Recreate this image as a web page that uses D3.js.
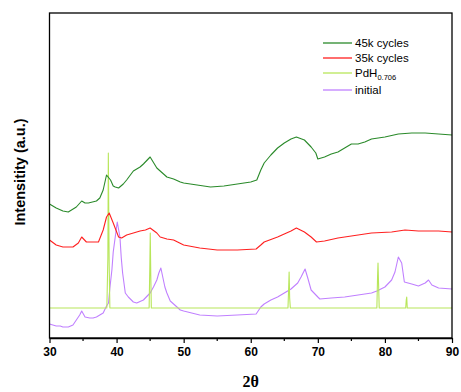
<!DOCTYPE html>
<html>
<head>
<meta charset="utf-8">
<script src="https://cdn.jsdelivr.net/npm/d3@7"></script>
<style>
body{margin:0;background:#fff;}
svg{display:block;}
</style>
</head>
<body>
<svg id="chart" width="461" height="392"></svg>
<script>
// ---- Data (intensity in arbitrary units) ----
const xTicks = [30, 40, 50, 60, 70, 80, 90];
const seriesNames = ["45k cycles", "35k cycles", "PdH", "initial"];
const seriesColors = ["#2a8a2a", "#ff2020", "#b8e65a", "#c080ff"];

const cycles45k = [
 [30,134],[31,130],[32,127],[32.8,126],[34,131],[34.8,137],[35.3,135],[35.8,135],[37,137],[37.5,140],
 [38,148],[38.5,163],[39.1,158],[39.5,152],[39.8,151],[40.3,150],[41,154],[41.5,158],[42.5,167],
 [43.5,171],[44,174],[45,181],[46,170],[47,164],[47.5,161],[48.5,159],[49.5,156],[50,155],[52,153],
 [54,151],[56,152],[58,154],[60,156],[60.9,158],[61.5,168],[62,175],[63,183],[64,190],[65,195],
 [66,199],[66.8,201],[68,198],[69,191],[69.7,185],[70,179],[71,181],[72,184],[73,186],[74,190],
 [75,194],[76,194],[77,196],[78,199],[80,201],[82,204],[84,205],[86,205],[88,204],[90,203]
];
const cycles35k = [
 [30,98],[31,93],[32,91],[33,91],[33.5,91],[34.3,95],[34.8,101],[35.5,96],[36,96],[37.3,96],
 [38,108],[38.5,121],[38.9,125],[39.5,115],[40.3,101],[40.75,100],[41.5,103],[43.5,107],[44.3,108],
 [45,110],[46,105],[46.5,101],[47.5,99],[48.5,98],[50,93],[52.4,90],[55,88],[58,88],[60.8,89],
 [61.5,93],[62,96],[64,101],[66,107],[66.8,110],[68,106],[69,101],[69.8,96],[71,97],[73,100],
 [75,102],[78,105],[81,106],[83,108],[85,107],[88,107],[90,106]
];
const pdh = [
 [30,30],[38.55,30],[38.7,80],[38.77,185],[38.85,110],[38.9,72],[39.0,30],
 [44.85,30],[44.95,70],[45.02,105],[45.1,62],[45.18,30],
 [65.55,30],[65.65,50],[65.72,66],[65.8,40],[65.9,30],
 [78.8,30],[78.9,60],[78.97,75],[79.05,55],[79.15,30],
 [83.1,30],[83.18,38],[83.25,41],[83.33,30],[90,30]
];
const initial = [
 [30,14],[31,12],[31.6,12],[32,11],[32.8,11],[33.5,13],[34,18],[34.5,23],[34.8,27],[35.3,21],
 [36,20],[36.5,20],[37,21],[38,25],[38.5,32],[38.8,35],[39,50],[39.3,68],[39.5,86],[39.8,101],
 [40.1,116],[40.5,101],[40.7,80],[40.9,65],[41.3,45],[41.75,41],[42.5,36],[43,35],[44,38],
 [45,45],[45.5,51],[46,58],[46.3,65],[46.6,70],[47.2,51],[47.5,45],[48,37],[49,31],[49.5,28],
 [50,27],[52.4,23],[55,22],[58,23],[60.8,24],[61.5,31],[62,34],[63,38],[64,41],[65,45],[66,49],
 [67,55],[67.5,61],[68.1,69],[68.5,60],[69,48],[70,41],[70.3,39],[72,40],[74,41],[76,43],[78,45],
 [78.8,47],[80,51],[81,58],[81.5,66],[82,81],[82.5,75],[82.9,56],[84,54],[85,52],[86,55],
 [86.5,58],[87,53],[88,50],[90,49]
];

// ---- Layout ----
const svg = d3.select("#chart");
const W = 461, H = 392;
const m = {left: 49.5, right: 452, top: 13, bottom: 338};

svg.append("rect").attr("width", W).attr("height", H).attr("fill", "#fff");

const x = d3.scaleLinear().domain([30, 90]).range([m.left, m.right]);
const y = d3.scaleLinear().domain([0, 325]).range([m.bottom, m.top]);

const line = d3.line().x(d => x(d[0])).y(d => y(d[1]));

const data = [cycles45k, cycles35k, pdh, initial];
// draw order: PdH beneath? draw initial first, then pdh, then others
const order = [3, 2, 1, 0];
order.forEach(i => {
  svg.append("path")
    .datum(data[i])
    .attr("fill", "none")
    .attr("stroke", seriesColors[i])
    .attr("stroke-width", 1.1)
    .attr("stroke-linejoin", "round")
    .attr("d", line);
});

// frame
svg.append("rect")
  .attr("x", m.left).attr("y", m.top)
  .attr("width", m.right - m.left).attr("height", m.bottom - m.top)
  .attr("fill", "none").attr("stroke", "#000").attr("stroke-width", 1.3);

// x axis
const xAxis = d3.axisBottom(x).tickValues(xTicks).tickSize(5).tickSizeOuter(0).tickPadding(4);
const gx = svg.append("g").attr("transform", `translate(0,${m.bottom})`).call(xAxis);
gx.select(".domain").attr("stroke-width", 1.3);
gx.selectAll(".tick line").attr("stroke-width", 1.2);
gx.selectAll(".tick text")
  .attr("font-family", "Liberation Sans, Arial, sans-serif")
  .attr("font-size", 12).attr("font-weight", "bold").attr("fill", "#000");
// minor ticks
const minor = d3.range(35, 90, 10);
gx.selectAll(".minor").data(minor).enter().append("line")
  .attr("x1", d => x(d)).attr("x2", d => x(d))
  .attr("y1", 0).attr("y2", 3).attr("stroke", "#000").attr("stroke-width", 1.2);

// axis titles
svg.append("text")
  .attr("x", (m.left + m.right) / 2).attr("y", 387)
  .attr("text-anchor", "middle")
  .attr("font-family", "Liberation Serif, Times New Roman, serif")
  .attr("font-size", 16).attr("font-weight", "bold")
  .text("2θ");

svg.append("text")
  .attr("transform", `translate(25,172) rotate(-90)`)
  .attr("text-anchor", "middle")
  .attr("font-family", "Liberation Sans, Arial, sans-serif")
  .attr("font-size", 14.5).attr("font-weight", "bold")
  .text("Intensitity (a.u.)");

// legend
const legY = [43, 58, 73, 90];
const lg = svg.append("g");
seriesNames.forEach((name, i) => {
  lg.append("line")
    .attr("x1", 323).attr("x2", 352)
    .attr("y1", legY[i]).attr("y2", legY[i])
    .attr("stroke", seriesColors[i]).attr("stroke-width", 1.3);
  const t = lg.append("text")
    .attr("x", 355).attr("y", legY[i] + 4)
    .attr("font-family", "Liberation Sans, Arial, sans-serif")
    .attr("font-size", 11.5).attr("fill", "#000");
  t.append("tspan").text(name);
  if (name === "PdH") {
    t.append("tspan").attr("font-size", 7.5).attr("dy", 3).text("0.706");
  }
});
</script>
</body>
</html>
